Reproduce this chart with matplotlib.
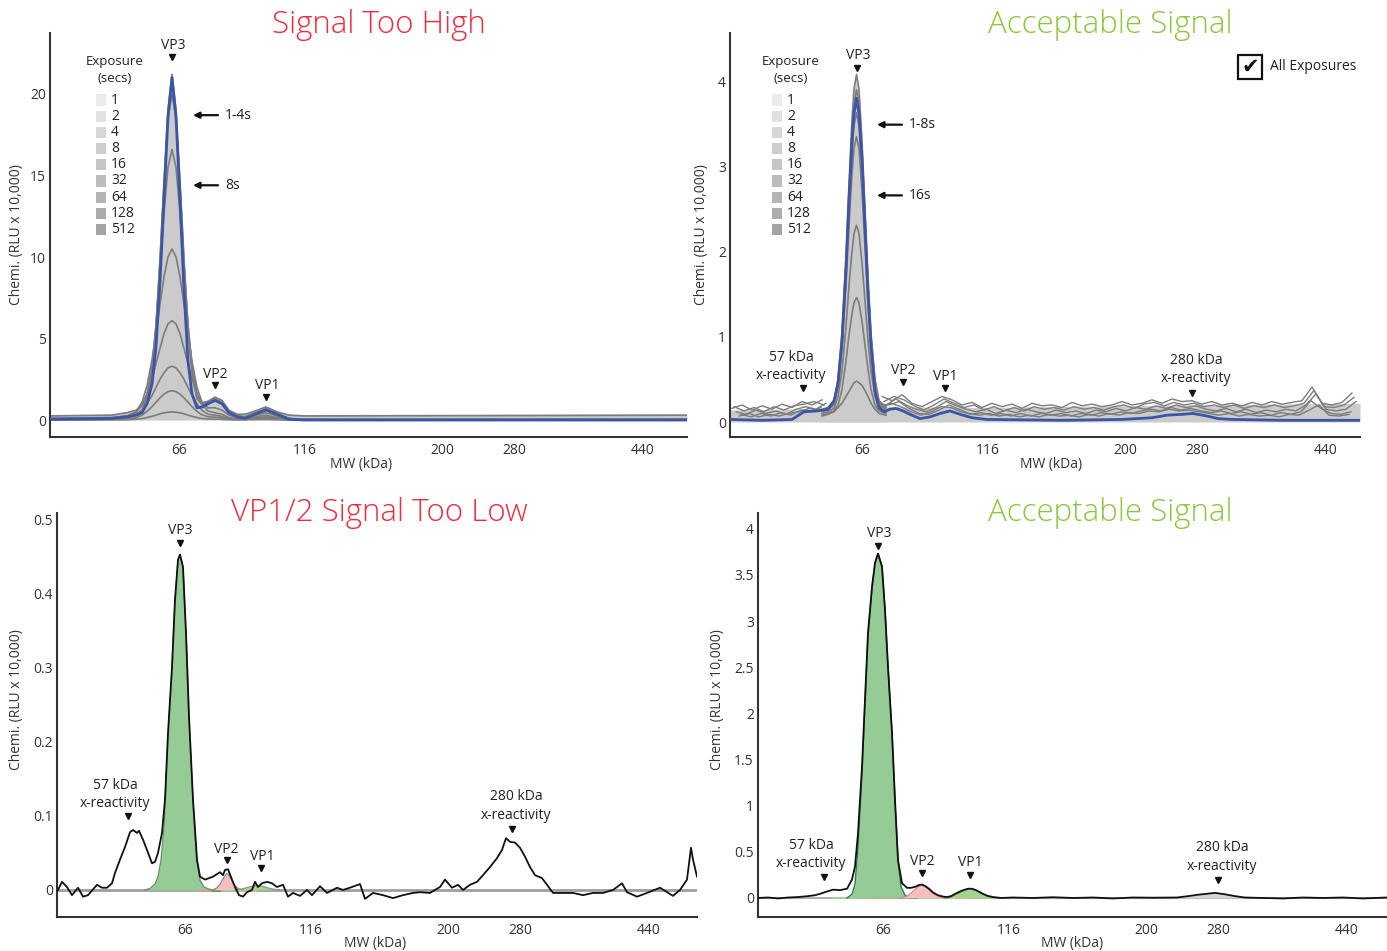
import numpy as np
import matplotlib
matplotlib.use('Agg')
import matplotlib.pyplot as plt
from matplotlib.patches import Rectangle

plt.rcParams['font.family'] = ['Open Sans', 'DejaVu Sans']

W, H = 1387, 951

# ---- shared axis info ----
mw_pos = [0, 126, 263, 335, 464]
mw_labels = ['66', '116', '200', '280', '440']
exposures = ['1', '2', '4', '8', '16', '32', '64', '128', '512']
exposure_grays = ['#ebebeb', '#e1e1e1', '#d7d7d7', '#cecece', '#c5c5c5',
                  '#bcbcbc', '#b4b4b4', '#acacac', '#a4a4a4']

# ---- top left: signal too high (RLU x 10,000) ----
tl_x = [-129, -67, -52, -43, -37, -32, -27, -23, -19, -15, -11, -7, -3, 1, 5, 9,
        13, 18, 23, 29, 36, 43, 50, 58, 66, 76, 87, 98, 110, 125, 508]
tl_blue = [0.05, 0.1, 0.2, 0.3, 0.45, 1.0, 2.2, 4.5, 8.5, 13.5, 18.6, 21.0, 18.6, 13.5, 8.0, 3.6,
           1.6, 0.75, 0.8, 1.0, 1.2, 1.0, 0.45, 0.2, 0.1, 0.35, 0.62, 0.35, 0.05, 0.0, 0.0]
tl_top = [0.25, 0.3, 0.45, 0.6, 0.9, 1.6, 3.2, 5.8, 9.8, 14.6, 19.0, 21.2, 19.0, 14.6, 9.8, 5.8,
          3.3, 1.6, 1.05, 1.15, 1.4, 1.2, 0.6, 0.35, 0.35, 0.55, 0.8, 0.5, 0.3, 0.25, 0.3]
tl_gray = [
    [0.1, 0.15, 0.25, 0.35, 0.55, 1.1, 2.7, 5.6, 9.7, 14.5, 18.5, 20.0, 18.5, 14.5, 9.7, 5.6,
     2.8, 1.3, 0.95, 1.1, 1.3, 1.05, 0.5, 0.25, 0.2, 0.45, 0.7, 0.4, 0.1, 0.05, 0.05],
    [0.1, 0.15, 0.25, 0.35, 0.6, 1.45, 3.2, 5.8, 9.1, 12.7, 15.5, 16.6, 15.5, 12.7, 9.1, 5.8,
     3.3, 1.5, 0.95, 1.05, 1.25, 1.0, 0.5, 0.25, 0.2, 0.42, 0.65, 0.38, 0.1, 0.05, 0.05],
    [0.05, 0.1, 0.25, 0.5, 1.1, 2.1, 3.7, 5.3, 7.1, 8.8, 10.0, 10.5, 10.0, 8.8, 7.1, 5.3,
     3.6, 2.0, 1.1, 0.75, 0.75, 0.6, 0.3, 0.15, 0.15, 0.3, 0.45, 0.25, 0.05, 0.0, 0.0],
    [0.03, 0.1, 0.2, 0.45, 0.9, 1.6, 2.5, 3.45, 4.4, 5.3, 5.9, 6.1, 5.9, 5.3, 4.4, 3.45,
     2.5, 1.6, 0.95, 0.55, 0.45, 0.35, 0.15, 0.08, 0.1, 0.2, 0.3, 0.15, 0.03, 0.0, 0.0],
    [0.02, 0.05, 0.1, 0.3, 0.6, 1.0, 1.5, 2.0, 2.5, 2.9, 3.2, 3.3, 3.2, 2.9, 2.5, 2.0,
     1.5, 1.0, 0.6, 0.35, 0.3, 0.22, 0.1, 0.05, 0.07, 0.14, 0.2, 0.1, 0.02, 0.0, 0.0],
    [0.01, 0.05, 0.05, 0.15, 0.3, 0.53, 0.82, 1.1, 1.36, 1.59, 1.74, 1.8, 1.74, 1.59, 1.36, 1.1,
     0.82, 0.53, 0.32, 0.2, 0.18, 0.13, 0.06, 0.03, 0.04, 0.08, 0.12, 0.06, 0.01, 0.0, 0.0],
    [0.0, 0.01, 0.02, 0.05, 0.09, 0.15, 0.23, 0.3, 0.38, 0.44, 0.48, 0.5, 0.48, 0.44, 0.38, 0.3,
     0.23, 0.15, 0.09, 0.06, 0.06, 0.04, 0.02, 0.01, 0.02, 0.03, 0.04, 0.02, 0.0, 0.0, 0.0],
]

# ---- top right: acceptable signal ----
tr_blue_x = [-132, -100, -70, -58, -45, -34, -28, -24, -20, -16, -13, -10, -8, -5.5, -3,
             0, 3, 6, 9, 13, 17, 22, 28, 34, 41, 48, 58, 68, 78, 88, 98, 110, 125, 200, 260,
             290, 305, 320, 331, 345, 356, 370, 420, 498]
tr_blue = [0.03, 0.02, 0.03, 0.12, 0.13, 0.15, 0.25, 0.45, 0.95, 1.8, 2.6, 3.3, 3.62, 3.8, 3.62,
           3.08, 2.3, 1.52, 0.89, 0.36, 0.17, 0.12, 0.15, 0.16, 0.13, 0.09, 0.04, 0.06, 0.1, 0.13,
           0.09, 0.05, 0.03, 0.02, 0.03, 0.05, 0.08, 0.09, 0.1, 0.07, 0.04, 0.03, 0.02, 0.02]
tr_pk_x = [-40, -34, -28, -24, -20, -16, -13, -10, -8, -5.5, -3, 0, 3, 6, 9, 13, 17, 24]
tr_gray = [
    [0.15, 0.17, 0.25, 0.5, 1.05, 1.95, 2.8, 3.55, 3.91, 4.08, 3.91, 3.3, 2.5, 1.7, 1.05, 0.5, 0.25, 0.18],
    [0.14, 0.16, 0.24, 0.48, 1.0, 1.85, 2.68, 3.4, 3.74, 3.9, 3.74, 3.16, 2.38, 1.6, 1.0, 0.48, 0.24, 0.17],
    [0.13, 0.15, 0.22, 0.44, 0.93, 1.72, 2.5, 3.15, 3.48, 3.63, 3.48, 2.94, 2.22, 1.5, 0.93, 0.44, 0.22, 0.15],
    [0.12, 0.14, 0.2, 0.41, 0.86, 1.6, 2.3, 2.91, 3.21, 3.35, 3.21, 2.71, 2.05, 1.38, 0.86, 0.41, 0.2, 0.14],
    [0.1, 0.12, 0.16, 0.3, 0.6, 1.12, 1.6, 2.0, 2.21, 2.31, 2.21, 1.87, 1.42, 0.96, 0.6, 0.3, 0.16, 0.12],
    [0.08, 0.1, 0.13, 0.2, 0.38, 0.72, 1.02, 1.27, 1.4, 1.46, 1.4, 1.18, 0.9, 0.62, 0.38, 0.2, 0.13, 0.1],
    [0.07, 0.09, 0.12, 0.17, 0.22, 0.3, 0.36, 0.42, 0.46, 0.48, 0.46, 0.43, 0.37, 0.3, 0.22, 0.15, 0.1, 0.08],
]
nan = np.nan
# noisy baselines of the long exposures, each sampled every 10 px at its own offset
tr_noise_a = [0.16, 0.2, 0.14, 0.19, 0.15, 0.21, 0.17, 0.24, 0.2, 0.26, nan, nan, nan, nan, nan,
              0.3, 0.25, 0.32, 0.22, 0.18, 0.24, 0.3, 0.26, 0.2, 0.23, 0.17, 0.22, 0.18, 0.21, 0.16,
              0.22, 0.19, 0.2, 0.17, 0.23, 0.19, 0.21, 0.18, 0.2, 0.24, 0.2, 0.22, 0.26, 0.22, 0.27,
              0.24, 0.25, 0.21, 0.24, 0.2, 0.22, 0.19, 0.23, 0.2, 0.24, 0.21, 0.23, 0.25, 0.41, 0.22,
              0.2, 0.23, 0.34]
tr_noise_b = [0.12, 0.09, 0.14, 0.1, 0.13, 0.09, 0.15, 0.18, 0.15, 0.22, nan, nan, nan, nan, nan,
              0.2, 0.27, 0.2, 0.15, 0.12, 0.17, 0.24, 0.19, 0.15, 0.12, 0.15, 0.1, 0.14, 0.11, 0.15,
              0.12, 0.1, 0.14, 0.11, 0.13, 0.1, 0.14, 0.12, 0.16, 0.13, 0.17, 0.15, 0.19, 0.16, 0.2,
              0.17, 0.19, 0.15, 0.13, 0.16, 0.12, 0.15, 0.11, 0.14, 0.12, 0.15, 0.13, 0.2, 0.33, 0.15,
              0.13, 0.15, 0.24]
tr_noise_c = [0.07, 0.1, 0.06, 0.09, 0.07, 0.1, 0.12, 0.16, 0.14, nan, nan, nan, nan, nan,
              0.2, 0.2, 0.24, 0.16, 0.1, 0.09, 0.14, 0.2, 0.15, 0.1, 0.08, 0.1, 0.07, 0.09, 0.06,
              0.08, 0.06, 0.09, 0.07, 0.08, 0.06, 0.09, 0.07, 0.1, 0.08, 0.11, 0.1, 0.13, 0.12, 0.15,
              0.13, 0.14, 0.12, 0.1, 0.08, 0.1, 0.07, 0.09, 0.07, 0.08, 0.06, 0.09, 0.08, 0.14, 0.2,
              0.08, 0.07, 0.09]
tr_noise_d = [0.18, 0.13, 0.17, 0.12, 0.18, 0.14, 0.19, 0.21, 0.24, 0.2, nan, nan, nan, nan, nan,
              0.24, 0.3, 0.26, 0.19, 0.14, 0.2, 0.27, 0.22, 0.17, 0.2, 0.14, 0.18, 0.13, 0.17, 0.13,
              0.18, 0.15, 0.17, 0.14, 0.18, 0.15, 0.17, 0.14, 0.18, 0.2, 0.16, 0.21, 0.23, 0.19, 0.23,
              0.2, 0.22, 0.18, 0.2, 0.17, 0.2, 0.16, 0.19, 0.17, 0.2, 0.17, 0.19, 0.22, 0.37, 0.18,
              0.17, 0.2, 0.29]
tr_noise_e = [0.09, 0.06, 0.1, 0.07, 0.11, 0.08, 0.14, 0.12, 0.17, nan, nan, nan, nan, nan,
              0.17, 0.22, 0.18, 0.12, 0.08, 0.12, 0.18, 0.17, 0.12, 0.09, 0.11, 0.08, 0.1, 0.07,
              0.1, 0.07, 0.1, 0.08, 0.1, 0.07, 0.1, 0.08, 0.11, 0.09, 0.12, 0.1, 0.13, 0.15, 0.13,
              0.17, 0.14, 0.16, 0.13, 0.11, 0.13, 0.1, 0.12, 0.09, 0.11, 0.08, 0.11, 0.09, 0.12,
              0.25, 0.16, 0.1, 0.09, 0.12]
tr_noise_start = [-130, -126, -123, -128, -121]
tr_band_x = [-132, -40, 20, 120, 250, 330, 400, 498]
tr_band_y = [0.14, 0.16, 0.18, 0.17, 0.19, 0.2, 0.21, 0.22]

# ---- bottom left: VP1/2 signal too low ----
bl_x = [-127, -123, -118, -113, -107, -102, -97, -88, -83, -78, -73, -70, -65, -60, -55, -52, -48,
        -46, -42, -38, -33, -30, -27, -23, -20, -17, -13, -10, -7, -5, -2, 1, 4, 8, 12, 15, 20, 28,
        35, 38, 40, 43, 47, 50, 54, 58, 62, 67, 70, 73, 77, 82, 87, 92, 98, 103, 108, 115, 122, 127,
        135, 142, 152, 158, 167, 175, 180, 188, 198, 208, 218, 228, 235, 245, 255, 260, 267, 273,
        278, 285, 292, 298, 305, 312, 317, 321, 325, 330, 335, 340, 345, 350, 357, 362, 368, 378,
        388, 398, 408, 418, 428, 437, 442, 452, 462, 475, 488, 495, 502, 506, 508, 512]
bl_y = [0.000, 0.011, 0.004, -0.007, 0.003, -0.009, -0.007, 0.007, 0.003, 0.003, 0.009, 0.023,
        0.041, 0.058, 0.078, 0.081, 0.077, 0.080, 0.068, 0.054, 0.036, 0.038, 0.050, 0.077, 0.122,
        0.212, 0.301, 0.392, 0.446, 0.453, 0.436, 0.347, 0.234, 0.122, 0.041, 0.018, 0.014, 0.018,
        0.024, 0.020, 0.027, 0.028, 0.014, 0.004, -0.007, -0.009, -0.003, 0.000, 0.011, 0.004,
        0.009, 0.011, 0.009, 0.004, 0.007, -0.009, -0.004, -0.008, 0.000, -0.007, 0.005, -0.004,
        0.003, 0.000, 0.004, 0.008, -0.012, -0.004, -0.007, -0.011, -0.007, -0.004, -0.003, -0.004,
        0.004, 0.014, 0.003, 0.007, 0.000, 0.007, 0.011, 0.020, 0.031, 0.043, 0.054, 0.070, 0.065,
        0.064, 0.057, 0.045, 0.031, 0.020, 0.016, 0.007, -0.004, -0.004, -0.004, -0.007, -0.004,
        -0.004, 0.000, 0.009, -0.003, -0.009, -0.004, 0.003, -0.008, 0.000, 0.014, 0.057, 0.041,
        0.018]
bl_vp3_x = [-40, -35, -30, -27, -24, -21, -17, -13, -10, -7, -5, -2, 1, 4, 8, 12, 15, 19, 24, 29]
bl_vp3_y = [0, 0.002, 0.008, 0.018, 0.040, 0.085, 0.205, 0.298, 0.39, 0.445, 0.452, 0.435, 0.345,
            0.232, 0.118, 0.038, 0.013, 0.004, 0.001, 0]
bl_vp2_x = [28, 32, 35, 38, 40, 42, 44, 47, 50, 53, 57]
bl_vp2_y = [0, 0.003, 0.008, 0.015, 0.019, 0.022, 0.02, 0.013, 0.006, 0.002, 0]
bl_vp1_x = [50, 56, 62, 67, 72, 77, 82, 88, 95]
bl_vp1_y = [0, 0.001, 0.003, 0.005, 0.006, 0.005, 0.003, 0.001, 0]
bl_seg_lo = [13, 28, 37, 55]
bl_seg_hi = [28, 37, 55, 70]

# ---- bottom right: acceptable signal ----
br_x = [-125, -115, -105, -95, -85, -75, -68, -63, -56, -50, -43, -36, -31, -28, -25, -21, -18,
        -15, -11, -8, -5, -1, 2, 5, 9, 12, 15, 19, 24, 28, 32, 36, 39, 42, 46, 50, 55, 60, 64, 68,
        73, 79, 85, 89, 94, 99, 104, 110, 118, 130, 150, 170, 190, 210, 230, 250, 270, 294, 305,
        315, 332, 342, 352, 362, 380, 400, 420, 440, 460, 480, 504]
br_y = [0.0, 0.005, -0.005, 0.005, 0.01, 0.02, 0.03, 0.045, 0.07, 0.09, 0.085, 0.1, 0.2, 0.34,
        0.7, 1.42, 2.15, 2.87, 3.37, 3.63, 3.73, 3.59, 3.12, 2.5, 1.79, 1.06, 0.41, 0.16, 0.11,
        0.11, 0.12, 0.14, 0.145, 0.13, 0.10, 0.06, 0.03, 0.015, 0.01, 0.02, 0.05, 0.08, 0.10, 0.10,
        0.08, 0.05, 0.025, 0.01, 0.0, 0.005, 0.0, 0.008, 0.0, 0.005, -0.005, 0.005, 0.003, 0.005,
        0.02, 0.035, 0.055, 0.04, 0.02, 0.005, 0.0, -0.005, 0.005, 0.0, 0.005, -0.005, 0.005]
br_vp3_x = [-36, -31, -28, -25, -21, -18, -15, -11, -8, -5, -1, 2, 5, 9, 12, 15, 18, 22, 27]
br_vp3_y = [0, 0.04, 0.15, 0.55, 1.35, 2.12, 2.85, 3.35, 3.62, 3.73, 3.59, 3.12, 2.5, 1.79, 1.06,
            0.41, 0.12, 0.03, 0]
br_vp2_x = [18, 24, 29, 34, 38, 42, 46, 50, 55, 60, 66]
br_vp2_y = [0, 0.02, 0.06, 0.11, 0.14, 0.13, 0.09, 0.05, 0.02, 0.005, 0]
br_vp1_x = [62, 68, 74, 79, 84, 88, 92, 97, 102, 108, 115]
br_vp1_y = [0, 0.01, 0.04, 0.07, 0.095, 0.10, 0.09, 0.06, 0.03, 0.01, 0]
br_seg_lo = [-50, -13, 17, 40, 67]
br_seg_hi = [-36, 14, 34, 67, 87]

seg_colors_bl = ['#f08a8a', '#2f9a5a', '#8fd07f', '#f4a6a6']
seg_colors_br = ['#a9c9a9', '#f08a8a', '#2f9a5a', '#8fd07f', '#f4a6a6']

RED = '#ee2a3c'
GREEN = '#8cc63f'
BLUE = '#3b55a8'
LINE_GRAY = '#7d7d7d'
FILL_GRAY = '#cbcbcb'
FIT_GREEN = '#95cb95'
FIT_PINK = '#f5c0c0'
FIT_GREEN2 = '#a2d48c'


def fx(px):
    return px / W


def fy(py):
    return 1 - py / H


def make_ax(x0, y0, x1, y1, xlim, ylim, yticks, ylabels):
    ax = fig.add_axes([fx(x0), fy(y1), (x1 - x0) / W, (y1 - y0) / H])
    ax.set_xlim(*xlim)
    ax.set_ylim(*ylim)
    for s in ['top', 'right']:
        ax.spines[s].set_visible(False)
    for s in ['left', 'bottom']:
        ax.spines[s].set_color('#333333')
        ax.spines[s].set_linewidth(1.5)
    ax.set_xticks(mw_pos, mw_labels)
    ax.set_yticks(yticks, ylabels)
    ax.tick_params(axis='x', length=0, labelsize=10, colors='#333333', pad=4)
    ax.tick_params(axis='y', length=0, labelsize=10, colors='#333333', pad=3)
    ax.set_facecolor('none')
    return ax


def mark(ax, label, tx, ty, mx, my, size=10):
    ax.text(tx, ty, label, ha='center', va='center', fontsize=size, color='#222222',
            linespacing=1.35)
    ax.plot([mx], [my], marker='v', ms=4.5, color='#111111', ls='none', zorder=6)


def ylab(px, py):
    fig.text(fx(px), fy(py), 'Chemi. (RLU x 10,000)', rotation=90, ha='center', va='center',
             fontsize=10, color='#333333')


def xlab(px, py):
    fig.text(fx(px), fy(py), 'MW (kDa)', ha='center', va='center', fontsize=10, color='#333333')


def title(px, py, label, color):
    fig.text(fx(px), fy(py), label, ha='center', va='center', fontsize=22.5, color=color,
             fontweight='light')


def exposure_legend(px_sq, px_title):
    fig.text(fx(px_title), fy(61), 'Exposure', ha='center', va='center', fontsize=9.5, color='#222222')
    fig.text(fx(px_title), fy(79), '(secs)', ha='center', va='center', fontsize=9.5, color='#222222')
    for i, (lab, c) in enumerate(zip(exposures, exposure_grays)):
        yc = 100 + i * 16.2
        fig.patches.append(Rectangle((fx(px_sq), fy(yc + 5.5)), 10 / W, 11 / H,
                                     transform=fig.transFigure, facecolor=c, edgecolor='none'))
        fig.text(fx(px_sq + 15), fy(yc), lab, ha='left', va='center', fontsize=10, color='#222222')


def arrow(ax, x0, x1, y, label, lx):
    ax.annotate('', xy=(x0, y), xytext=(x1, y),
                arrowprops=dict(arrowstyle='-|>', color='#111111', lw=1.6, mutation_scale=9,
                                shrinkA=0, shrinkB=0))
    ax.text(lx, y, label, ha='left', va='center', fontsize=10, color='#222222')


fig = plt.figure(figsize=(W / 100, H / 100), dpi=100)

# ================= top left =================
ax = make_ax(50, 33, 687, 437, (-129, 508), (-1.04, 23.74), [0, 5, 10, 15, 20],
             ['0', '5', '10', '15', '20'])
ax.fill_between(tl_x, tl_top, 0, color=FILL_GRAY, lw=0, zorder=1)
for g in tl_gray:
    ax.plot(tl_x, g, color=LINE_GRAY, lw=1.2, zorder=2)
ax.plot(tl_x, tl_top, color=LINE_GRAY, lw=1.3, zorder=2)
ax.plot(tl_x, tl_blue, color=BLUE, lw=2, zorder=3)
mark(ax, 'VP3', -6, 23.0, -7, 22.27)
mark(ax, 'VP2', 36, 2.82, 36, 2.15)
mark(ax, 'VP1', 88, 2.09, 87, 1.41)
arrow(ax, 14, 39, 18.7, '1-4s', 46)
arrow(ax, 14, 39, 14.4, '8s', 46)
exposure_legend(96, 115)
ylab(17, 235)
xlab(361, 464)
title(379, 25, 'Signal Too High', RED)

# ================= top right =================
ax = make_ax(730, 33, 1360, 437, (-132, 498), (-0.176, 4.566), [0, 1, 2, 3, 4],
             ['0', '1', '2', '3', '4'])
ax.fill_between(tr_band_x, tr_band_y, 0, color=FILL_GRAY, lw=0, zorder=1)
ax.fill_between(tr_pk_x, tr_gray[0], 0, color=FILL_GRAY, lw=0, zorder=1)
for start, noise in zip(tr_noise_start,
                        [tr_noise_a, tr_noise_b, tr_noise_c, tr_noise_d, tr_noise_e]):
    ax.plot(np.arange(len(noise)) * 10 + start, noise, color=LINE_GRAY, lw=1.0, zorder=2)
for g in tr_gray:
    ax.plot(tr_pk_x, g, color=LINE_GRAY, lw=1.2, zorder=2)
ax.plot(tr_blue_x, tr_blue, color=BLUE, lw=2, zorder=3)
mark(ax, 'VP3', -4, 4.30, -5, 4.15)
mark(ax, 'VP2', 41, 0.60, 41, 0.47)
mark(ax, 'VP1', 83, 0.53, 83, 0.40)
mark(ax, '57 kDa\nx-reactivity', -71, 0.651, -59, 0.40)
mark(ax, '280 kDa\nx-reactivity', 334, 0.617, 330, 0.34)
arrow(ax, 15, 40, 3.49, '1-8s', 47)
arrow(ax, 15, 40, 2.66, '16s', 47)
exposure_legend(772, 791)
fig.patches.append(Rectangle((fx(1238), fy(79)), 24 / W, 24 / H, transform=fig.transFigure,
                             facecolor='white', edgecolor='#111111', lw=1.6))
fig.text(fx(1250), fy(67), '\u2714', ha='center', va='center', fontsize=15, color='#111111',
         family='DejaVu Sans')
fig.text(fx(1270), fy(66), 'All Exposures', ha='left', va='center', fontsize=10, color='#222222')
ylab(701, 235)
xlab(1051, 464)
title(1110, 25, 'Acceptable Signal', GREEN)

# ================= bottom left =================
ax = make_ax(57, 513, 697, 917, (-128, 512), (-0.0365, 0.509), [0, 0.1, 0.2, 0.3, 0.4, 0.5],
             ['0', '0.1', '0.2', '0.3', '0.4', '0.5'])
ax.axhline(0, color='#9e9e9e', lw=2, zorder=1)
for lo, hi, c in zip(bl_seg_lo, bl_seg_hi, seg_colors_bl):
    ax.plot([lo, hi], [0, 0], color=c, lw=2, zorder=1.5)
ax.fill_between(bl_vp3_x, bl_vp3_y, 0, color=FIT_GREEN, lw=0, zorder=2)
ax.plot(bl_vp3_x, bl_vp3_y, color='#6f8f6f', lw=1, zorder=2)
ax.fill_between(bl_vp2_x, bl_vp2_y, 0, color=FIT_PINK, lw=0, zorder=2)
ax.plot(bl_vp2_x, bl_vp2_y, color='#9a8a8a', lw=1, zorder=2)
ax.fill_between(bl_vp1_x, bl_vp1_y, 0, color=FIT_GREEN2, lw=0, zorder=2)
ax.plot(bl_vp1_x, bl_vp1_y, color='#7f9f7f', lw=1, zorder=2)
ax.plot(bl_x, bl_y, color='#111111', lw=1.3, zorder=3)
mark(ax, 'VP3', -5, 0.485, -5, 0.469)
mark(ax, '57 kDa\nx-reactivity', -70, 0.129, -57, 0.100)
mark(ax, 'VP2', 41, 0.055, 42, 0.0405)
mark(ax, 'VP1', 77, 0.0446, 76, 0.0297)
mark(ax, '280 kDa\nx-reactivity', 331, 0.1135, 327, 0.0824)
ylab(17, 700)
xlab(375, 943)
title(379, 513, 'VP1/2 Signal Too Low', RED)

# ================= bottom right =================
ax = make_ax(758, 513, 1387, 917, (-125, 504), (-0.206, 4.17),
             [0, 0.5, 1, 1.5, 2, 2.5, 3, 3.5, 4],
             ['0', '0.5', '1', '1.5', '2', '2.5', '3', '3.5', '4'])
ax.axhline(0, color='#b0b0b0', lw=1.5, zorder=1)
for lo, hi, c in zip(br_seg_lo, br_seg_hi, seg_colors_br):
    ax.plot([lo, hi], [0, 0], color=c, lw=1.5, zorder=1.5)
br_xa = np.array(br_x)
ax.fill_between(br_x, br_y, 0, where=(br_xa >= 290) & (br_xa <= 365), color='#d6d6d6', lw=0, zorder=1)
ax.fill_between(br_vp3_x, br_vp3_y, 0, color=FIT_GREEN, lw=0, zorder=2)
ax.plot(br_vp3_x, br_vp3_y, color='#2f7a4a', lw=1, zorder=2)
ax.fill_between(br_vp2_x, br_vp2_y, 0, color=FIT_PINK, lw=0, zorder=2)
ax.plot(br_vp2_x, br_vp2_y, color='#e08a8a', lw=1, zorder=2)
ax.fill_between(br_vp1_x, br_vp1_y, 0, color=FIT_GREEN2, lw=0, zorder=2)
ax.plot(br_vp1_x, br_vp1_y, color='#6fae5f', lw=1, zorder=2)
ax.plot(br_x, br_y, color='#111111', lw=1.3, zorder=3)
mark(ax, 'VP3', -4, 3.946, -5, 3.816)
mark(ax, '57 kDa\nx-reactivity', -72, 0.4715, -59, 0.228)
mark(ax, 'VP2', 39, 0.39, 39, 0.271)
mark(ax, 'VP1', 87, 0.379, 87, 0.249)
mark(ax, '280 kDa\nx-reactivity', 339, 0.444, 335, 0.195)
ylab(717, 700)
xlab(1072, 943)
title(1110, 513, 'Acceptable Signal', GREEN)

fig.savefig('out.png', dpi=100)
